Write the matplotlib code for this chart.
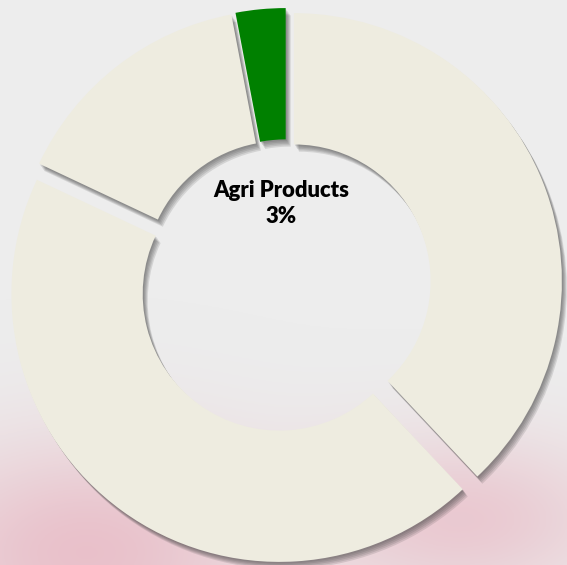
import numpy as np
import matplotlib
matplotlib.use("Agg")
import matplotlib.pyplot as plt
import matplotlib.patheffects as pe

# dati del grafico (in senso orario partendo dall'alto)
segmenti = ["Segment A", "Segment B", "Segment C", "Agri Products"]
quote = [38, 44, 15, 3]
colori = ["#EEECE0", "#EEECE0", "#EEECE0", "#008000"]
esplosione = [0.03, 0.045, 0.03, 0.03]
evidenziato = "Agri Products"

fig = plt.figure(figsize=(5.67, 5.65), dpi=100)
fig.patch.set_facecolor("#EDEDED")

# sfondo: macchie rosate sfumate in basso
bg = fig.add_axes([0, 0, 1, 1], zorder=0)
yy, xx = np.mgrid[0:1:300j, 0:1:300j]
d1 = np.exp(-(((xx - 0.15) / 0.32) ** 2 + ((yy - 0.02) / 0.2) ** 2))
d2 = np.exp(-(((xx - 0.82) / 0.28) ** 2 + ((yy - 0.08) / 0.15) ** 2))
alpha = np.clip(0.75 * d1 + 0.6 * d2, 0, 1)
rgba = np.zeros((300, 300, 4))
rgba[..., 0] = 0.91
rgba[..., 1] = 0.70
rgba[..., 2] = 0.75
rgba[..., 3] = alpha
bg.imshow(rgba, origin="lower", extent=[0, 1, 0, 1], aspect="auto")
bg.set_xlim(0, 1)
bg.set_ylim(0, 1)
bg.axis("off")

ax = fig.add_axes([0, 0, 1, 1], zorder=1)
ax.patch.set_visible(False)

wedges, _ = ax.pie(quote, colors=colori, explode=esplosione, startangle=90,
                   counterclock=False, wedgeprops=dict(width=0.49, linewidth=0))

# ombra sfumata sotto ogni spicchio
ombra = [pe.SimplePatchShadow(offset=(0.8 + 0.7 * i, -1.2 - 1.0 * i),
                              shadow_rgbFace="#3a3a3a", alpha=0.14)
         for i in range(5)]
for w in wedges:
    w.set_path_effects(ombra + [pe.Normal()])

i = segmenti.index(evidenziato)
pct = round(100 * quote[i] / sum(quote))
ax.text(-0.02, 0.302, f"{evidenziato}\n{pct}%", ha="center", va="center",
        fontsize=15.8, fontweight="heavy", family=["Lato", "DejaVu Sans"],
        linespacing=1.3, color="black")

ax.set_xlim(-1.069, 1.047)
ax.set_ylim(-1.048, 1.060)
ax.set_aspect("auto")
ax.axis("off")

plt.savefig("out.png", dpi=100, facecolor=fig.get_facecolor())
